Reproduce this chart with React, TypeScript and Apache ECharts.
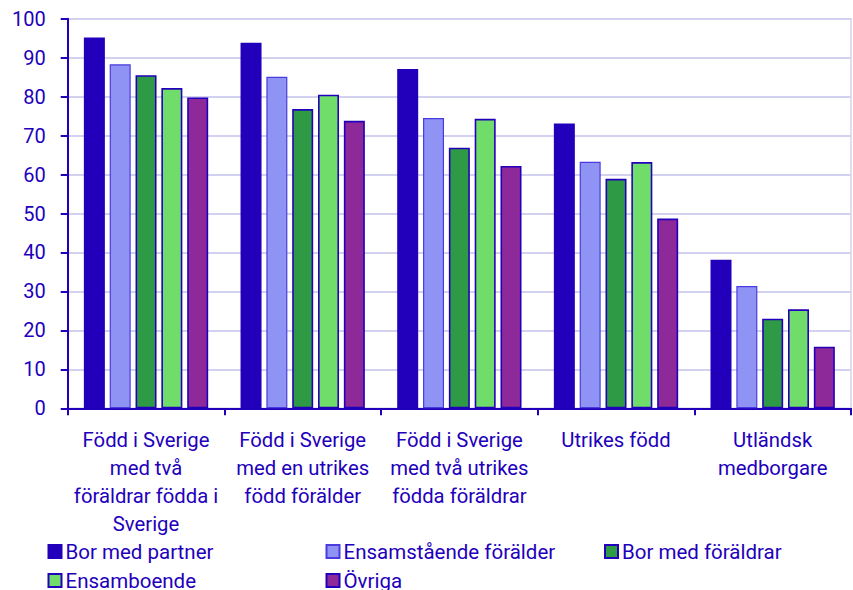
import React, { useEffect, useRef } from "react";
import * as echarts from "echarts";

const categories = [
  "Född i Sverige\nmed två\nföräldrar födda i\nSverige",
  "Född i Sverige\nmed en utrikes\nfödd förälder",
  "Född i Sverige\nmed två utrikes\nfödda föräldrar",
  "Utrikes född",
  "Utländsk\nmedborgare",
];

const seriesNames = [
  "Bor med partner",
  "Ensamstående förälder",
  "Bor med föräldrar",
  "Ensamboende",
  "Övriga",
];

const borMedPartner = [95.2, 93.8, 87.1, 73.1, 38.1];
const ensamstaende = [88.3, 85.1, 74.5, 63.3, 31.4];
const borMedForaldrar = [85.5, 76.8, 66.9, 58.9, 23.0];
const ensamboende = [82.2, 80.5, 74.3, 63.2, 25.4];
const ovriga = [79.8, 73.8, 62.2, 48.7, 15.8];

const yTicks = { min: 0, max: 100, interval: 10 };

const AXIS = "#2200bb";
const fills = ["#2200bb", "#8f94f4", "#2e9a46", "#70dd6a", "#8e2999"];
const borders = ["#2200bb", "#4a3be0", "#2200bb", "#2200bb", "#2200bb"];
const legendPos = [
  { left: 47.5, top: 541 },
  { left: 325.5, top: 541 },
  { left: 604, top: 541 },
  { left: 47.5, top: 570 },
  { left: 325.5, top: 570 },
];

const FONT = "Roboto";

export default function App() {
  const ref = useRef<HTMLDivElement>(null);
  useEffect(() => {
    document.body.style.margin = "0";
    if (!ref.current) return;
    const chart = echarts.init(ref.current, undefined, { renderer: "svg" });
    const values = [borMedPartner, ensamstaende, borMedForaldrar, ensamboende, ovriga];
    chart.setOption({
      animation: false,
      textStyle: { fontFamily: FONT },
      grid: {
        left: 67.7,
        right: 2,
        top: 18.7,
        bottom: 181.7,
        containLabel: false,
        show: true,
        borderColor: "#d2d2f0",
        borderWidth: 1.5,
      },
      legend: seriesNames.map((n, i) => ({
        data: [n],
        left: legendPos[i].left,
        top: legendPos[i].top,
        padding: 0,
        itemWidth: 13,
        itemHeight: 13,
        itemGap: 0,
        icon: "rect",
        selectedMode: false,
        textStyle: {
          color: AXIS,
          fontSize: 20.5,
          fontFamily: FONT,
          padding: [0, 0, 0, -1],
          lineHeight: 18,
        },
      })),
      xAxis: {
        type: "category",
        data: categories,
        axisLine: { show: true, lineStyle: { color: AXIS, width: 2 } },
        axisTick: { show: true, length: 7, interval: 0, lineStyle: { color: AXIS, width: 2 } },
        axisLabel: {
          interval: 0,
          color: AXIS,
          fontSize: 20.3,
          fontFamily: FONT,
          lineHeight: 28,
          margin: 18,
          align: "center",
        },
        splitLine: { show: false },
      },
      yAxis: {
        type: "value",
        min: yTicks.min,
        max: yTicks.max,
        interval: yTicks.interval,
        axisLine: { show: true, lineStyle: { color: AXIS, width: 2 } },
        axisTick: { show: true, length: 7, lineStyle: { color: AXIS, width: 2 } },
        axisLabel: { color: AXIS, fontSize: 20, fontFamily: FONT, margin: 22 },
        splitLine: { show: true, lineStyle: { color: "#d2d2f0", width: 1.8 } },
      },
      series: seriesNames.map((n, i) => ({
        name: n,
        type: "bar",
        data: values[i],
        barWidth: 21,
        barGap: "23%",
        itemStyle: {
          color: fills[i],
          borderColor: borders[i],
          borderWidth: i === 1 ? 1.2 : 1.6,
        },
      })),
    });
    return () => chart.dispose();
  }, []);
  return <div ref={ref} style={{ width: 853, height: 590 }} />;
}
